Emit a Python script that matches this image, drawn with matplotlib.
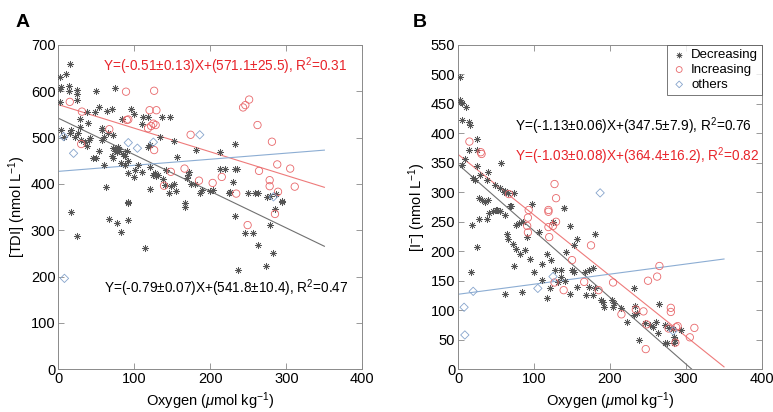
import matplotlib
matplotlib.use("Agg")
import matplotlib.pyplot as plt
import numpy as np

plt.rcParams['font.family'] = ['Liberation Sans', 'DejaVu Sans']
plt.rcParams['mathtext.fontset'] = 'custom'
plt.rcParams['mathtext.rm'] = 'Liberation Sans'
plt.rcParams['mathtext.it'] = 'Liberation Sans:italic'

# ---- Panel A: TDI vs oxygen ----
a_dec_x = [15, 10, 2, 14, 14, 2, 4, 25, 25, 25, 2, 49, 75, 4, 8, 15, 17, 22, 26, 29, 28, 38, 48, 54,
           64, 70, 84, 96, 99, 39, 57, 57, 35, 38, 40, 42, 53, 50, 57, 60, 72, 72, 75, 77, 80, 78,
           72, 70, 80, 85, 88, 92, 90, 83, 92, 101, 110, 110, 112, 118, 118, 121, 121, 134, 136,
           147, 125, 127, 129, 131, 138, 140, 142, 145, 148, 152, 155, 152, 156, 169, 170, 172,
           175, 180, 181, 186, 189, 200, 204, 213, 213, 219, 224, 226, 230, 232, 235, 232, 250,
           259, 263, 274, 278, 294, 287, 16, 25, 66, 77, 83, 91, 91, 114, 167, 167, 63, 92, 120,
           232, 237, 245, 256, 263, 278, 273, 283, 285, 294, 45, 60, 100, 105, 30, 65, 88]
a_dec_y = [658, 637, 630, 612, 601, 605, 610, 602, 594, 582, 577, 601, 608, 516, 502, 509, 516, 502,
           509, 523, 539, 556, 556, 565, 558, 561, 541, 561, 551, 532, 520, 516, 490, 482, 495,
           500, 470, 455, 495, 502, 505, 478, 472, 468, 475, 480, 455, 460, 470, 465, 460, 450,
           470, 444, 423, 430, 426, 529, 545, 545, 480, 484, 437, 502, 545, 545, 420, 423, 418,
           420, 410, 398, 430, 380, 395, 400, 385, 493, 459, 412, 420, 426, 400, 400, 473, 380,
           387, 385, 387, 433, 469, 433, 380, 382, 405, 433, 433, 487, 381, 380, 380, 371, 374,
           361, 378, 340, 287, 325, 315, 297, 321, 358, 262, 349, 358, 393, 361, 388, 331, 215,
           295, 295, 268, 311, 222, 251, 345, 362, 455, 440, 415, 440, 495, 510, 440]
a_inc_x = [15, 31, 30, 67, 89, 90, 92, 120, 129, 126, 118, 122, 125, 128, 126, 139, 148, 166, 174,
           185, 203, 215, 234, 243, 246, 251, 262, 264, 281, 278, 278, 289, 288, 305, 311, 249, 285]
a_inc_y = [577, 556, 486, 518, 599, 538, 539, 559, 559, 601, 520, 525, 530, 527, 473, 396, 426,
           433, 506, 407, 402, 415, 379, 565, 570, 582, 527, 428, 491, 408, 395, 383, 442, 433,
           394, 311, 335]
a_oth_x = [7, 20, 92, 104, 125, 186, 283, 8]
a_oth_y = [502, 466, 489, 477, 490, 506, 372, 196]

# ---- Panel B: iodide vs oxygen ----
b_dec_x = [3, 3, 4, 5, 10, 5, 15, 16, 25, 15, 25, 9, 5, 25, 20, 22, 29, 40, 38, 49, 57, 27, 31, 36,
           40, 55, 60, 62, 66, 74, 51, 55, 98, 139, 69, 18, 25, 17, 28, 38, 41, 46, 50, 55, 62,
           64, 66, 73, 76, 74, 70, 62, 76, 80, 85, 81, 88, 91, 95, 84, 100, 107, 111, 110, 117,
           117, 121, 122, 125, 128, 132, 135, 136, 139, 141, 142, 147, 147, 150, 152, 156, 153,
           156, 180, 167, 172, 177, 169, 178, 172, 180, 188, 191, 192, 202, 204, 205, 214, 223,
           231, 232, 235, 233, 238, 246, 252, 256, 261, 263, 265, 273, 278, 283, 272, 275, 284,
           286, 284, 294]
b_dec_y = [496, 457, 454, 451, 444, 423, 420, 414, 390, 372, 372, 356, 346, 345, 324, 321, 330,
           335, 321, 313, 350, 290, 287, 284, 287, 307, 300, 303, 298, 299, 270, 268, 280, 273,
           277, 244, 208, 165, 255, 255, 265, 268, 270, 268, 261, 230, 220, 213, 204, 175, 277,
           128, 245, 248, 250, 196, 202, 224, 187, 131, 165, 233, 178, 152, 196, 120, 137, 185,
           250, 168, 148, 156, 168, 273, 150, 199, 242, 128, 169, 165, 140, 211, 220, 230, 165,
           168, 171, 125, 125, 140, 137, 117, 114, 106, 117, 105, 112, 103, 80, 137, 92, 95, 107,
           50, 78, 75, 72, 80, 62, 111, 75, 70, 68, 45, 45, 44, 49, 55, 67]
b_inc_x = [15, 30, 31, 67, 127, 129, 119, 93, 92, 92, 91, 119, 125, 129, 119, 120, 127, 139, 150,
           175, 166, 185, 204, 215, 234, 244, 248, 247, 250, 262, 265, 280, 280, 277, 287, 289,
           286, 305, 311]
b_inc_y = [386, 368, 365, 297, 314, 290, 270, 270, 257, 232, 243, 267, 243, 250, 241, 224, 147,
           134, 185, 210, 148, 134, 147, 93, 101, 98, 76, 34, 150, 157, 175, 104, 97, 69, 71, 73,
           45, 54, 70]
b_oth_x = [187, 8, 9, 20, 105, 125, 283]
b_oth_y = [299, 105, 58, 132, 137, 157, 65]

# fitted lines: (slope, intercept, x end)
a_fits = [(-0.79, 541.8, 350), (-0.51, 571.1, 350), (0.131, 427.0, 350)]
b_fits = [(-1.13, 347.5, 307.5), (-1.03, 364.4, 350), (0.171, 127.0, 350)]

dec_c = '#555555'
inc_c = '#e8676a'
oth_c = '#86a4cc'
line_cols = ['#707070', '#ee7a7a', '#8cadd3']
ast = (8, 2, 0)

fig = plt.figure(figsize=(7.73, 4.12), dpi=100)
axA = fig.add_axes([0.0755, 0.104, 0.3933, 0.787])
axB = fig.add_axes([0.5925, 0.104, 0.3933, 0.787])


def draw(ax, dx, dy, ix, iy, ox, oy, fits):
    ax.scatter(dx, dy, marker=ast, s=22, color=dec_c, linewidths=0.45, label='Decreasing', zorder=3)
    ax.scatter(ix, iy, marker='o', s=28, facecolors='none', edgecolors=inc_c, linewidths=0.6,
               label='Increasing', zorder=3)
    ax.scatter(ox, oy, marker='D', s=18, facecolors='none', edgecolors=oth_c, linewidths=0.6,
               label='others', zorder=3)
    for (m, b, xe), c in zip(fits, line_cols):
        xx = np.array([0, xe])
        ax.plot(xx, m * xx + b, color=c, lw=0.8, zorder=2)
    ax.set_xlim(0, 400)
    ax.set_xticks([0, 100, 200, 300, 400])
    ax.tick_params(direction='in', top=True, right=True, labelsize=10.5, length=4,
                   color='#888888', width=0.6, pad=2)
    for s in ax.spines.values():
        s.set_color('#8a8a8a')
        s.set_linewidth(0.7)
    ax.set_xlabel(r'Oxygen ($\mu$mol kg$^{-1}$)', fontsize=10.5, labelpad=3)


draw(axA, a_dec_x, a_dec_y, a_inc_x, a_inc_y, a_oth_x, a_oth_y, a_fits)
axA.set_ylim(0, 700)
axA.set_yticks(range(0, 701, 100))
axA.set_ylabel(r'[TDI] (nmol L$^{-1}$)', fontsize=10.5, labelpad=2)
axA.text(59, 655, r'Y=(-0.51$\pm$0.13)X+(571.1$\pm$25.5), R$^2$=0.31', color='#e8242a',
         fontsize=9.8, va='center')
axA.text(60, 174, r'Y=(-0.79$\pm$0.07)X+(541.8$\pm$10.4), R$^2$=0.47', color='black',
         fontsize=9.8, va='center')

draw(axB, b_dec_x, b_dec_y, b_inc_x, b_inc_y, b_oth_x, b_oth_y, b_fits)
axB.set_ylim(0, 550)
axB.set_yticks(range(0, 551, 50))
axB.set_ylabel(r'[I$^{-}$] (nmol L$^{-1}$)', fontsize=10.5, labelpad=2)
axB.text(75, 412, r'Y=(-1.13$\pm$0.06)X+(347.5$\pm$7.9), R$^2$=0.76', color='black',
         fontsize=9.8, va='center')
axB.text(75, 362, r'Y=(-1.03$\pm$0.08)X+(364.4$\pm$16.2), R$^2$=0.82', color='#e8242a',
         fontsize=9.8, va='center')
leg = axB.legend(loc='upper right', fontsize=9.5, frameon=True, fancybox=False,
                 borderaxespad=0, handletextpad=0.3, borderpad=0.3, labelspacing=0.2,
                 handlelength=1.2, markerscale=0.8)
leg.get_frame().set_edgecolor('#555555')
leg.get_frame().set_linewidth(0.7)

fig.text(0.02, 0.945, 'A', fontsize=14, fontweight='bold', va='center')
fig.text(0.534, 0.945, 'B', fontsize=14, fontweight='bold', va='center')

fig.savefig('out.png', dpi=100)
